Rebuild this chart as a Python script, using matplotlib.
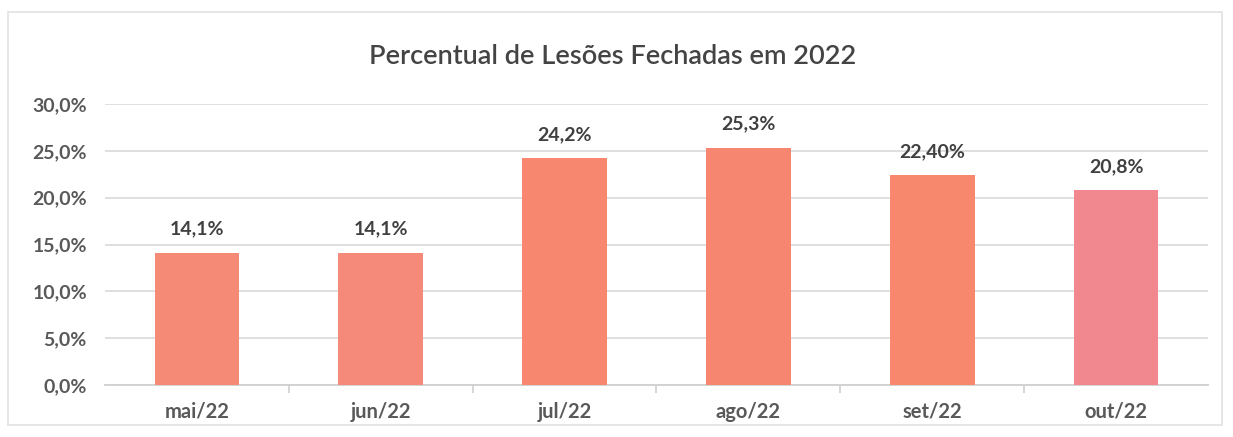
import matplotlib
matplotlib.use("Agg")
import matplotlib.pyplot as plt
from matplotlib.patches import Rectangle
from matplotlib.ticker import FuncFormatter, MultipleLocator

months = ["mai/22", "jun/22", "jul/22", "ago/22", "set/22", "out/22"]
values = [14.1, 14.1, 24.2, 25.3, 22.4, 20.8]
value_labels = ["14,1%", "14,1%", "24,2%", "25,3%", "22,40%", "20,8%"]
bar_colors = ["#F58A76", "#F5897A", "#F8876F", "#F6866F", "#F7876D", "#F2888F"]
title = "Percentual de Lesões Fechadas em 2022"

plt.rcParams["font.family"] = ["Lato", "DejaVu Sans"]

fig = plt.figure(figsize=(12.33, 4.37), dpi=100)
fig.patch.set_facecolor("white")

# outer chart frame
fig.patches.append(Rectangle((8 / 1233, 1 - 425 / 437), 1214 / 1233, 413 / 437,
                             transform=fig.transFigure, fill=False,
                             edgecolor="#E2E2E2", linewidth=1.2))

ax = fig.add_axes([105 / 1233, 1 - 385 / 437, 1103 / 1233, 281 / 437])
x = list(range(len(months)))
ax.bar(x, values, width=0.46, color=bar_colors, zorder=3)

ax.set_xlim(-0.5, len(months) - 0.5)
ax.set_ylim(0, 30)
ax.yaxis.set_major_locator(MultipleLocator(5))
ax.yaxis.set_major_formatter(FuncFormatter(lambda v, p: f"{v:.1f}%".replace(".", ",")))
ax.grid(axis="y", color="#DCDCDC", linewidth=1.3, zorder=0)
ax.set_axisbelow(True)

for s in ["top", "right", "left"]:
    ax.spines[s].set_visible(False)
ax.spines["bottom"].set_color("#D0D0D0")
ax.spines["bottom"].set_linewidth(1.3)

ax.set_xticks(x)
ax.set_xticklabels(months)
ax.set_xticks([i + 0.5 for i in x[:-1]], minor=True)
ax.tick_params(axis="x", which="major", length=0, pad=12, labelsize=14.5,
               labelcolor="#595959")
ax.tick_params(axis="x", which="minor", length=6, width=1.2, color="#D0D0D0")
ax.tick_params(axis="y", length=0, pad=13, labelsize=14, labelcolor="#595959")
for lbl in ax.get_xticklabels() + ax.get_yticklabels():
    lbl.set_fontweight("bold")

for xi, v, t in zip(x, values, value_labels):
    ax.annotate(t, (xi, v), xytext=(0, 11), textcoords="offset points",
                ha="center", va="bottom", fontsize=14, fontweight="bold",
                color="#404040")

fig.text(613 / 1233, 1 - 57 / 437, title, ha="center", va="center",
         fontsize=19.5, fontweight="semibold", color="#444444")

fig.savefig("out.png", dpi=100, facecolor="white")
